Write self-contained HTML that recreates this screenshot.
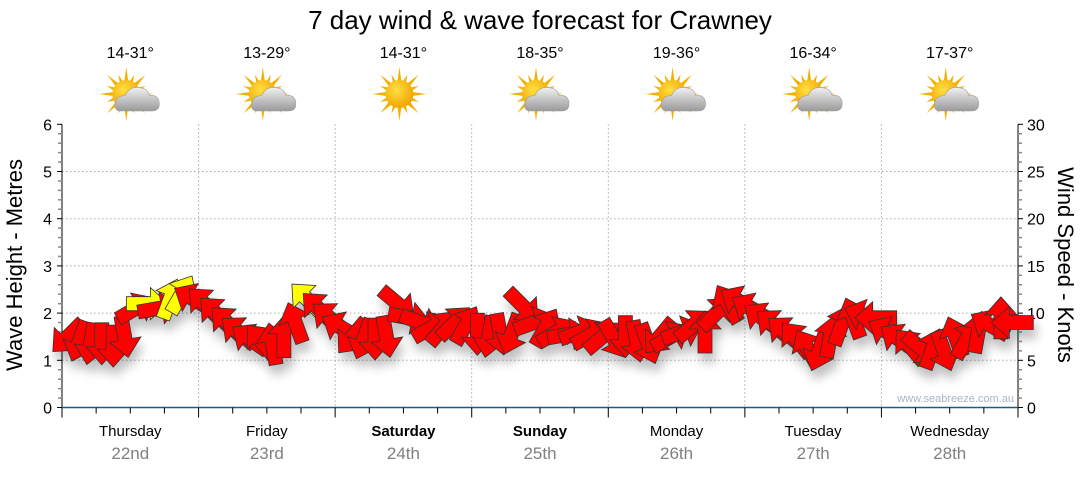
<!DOCTYPE html>
<html><head><meta charset="utf-8">
<style>
html,body{margin:0;padding:0;background:#fff;}
body{width:1080px;height:475px;overflow:hidden;font-family:"Liberation Sans",sans-serif;}
</style></head>
<body>
<svg id="chart" width="1080" height="475" viewBox="0 0 1080 475" xmlns="http://www.w3.org/2000/svg" font-family="Liberation Sans, sans-serif">
<defs>
 <filter id="sh" x="-50%" y="-50%" width="200%" height="200%">
  <feGaussianBlur in="SourceAlpha" stdDeviation="5"/>
  <feOffset dx="3" dy="9" result="b"/>
  <feComponentTransfer><feFuncA type="linear" slope="0.25"/></feComponentTransfer>
  <feMerge><feMergeNode/><feMergeNode in="SourceGraphic"/></feMerge>
 </filter>
 <radialGradient id="sunG" cx="0.4" cy="0.35" r="0.7"><stop offset="0" stop-color="#ffe040"/><stop offset="1" stop-color="#f0a000"/></radialGradient>
 <linearGradient id="cloudG" x1="0" y1="0" x2="0" y2="1"><stop offset="0" stop-color="#f0f0f0"/><stop offset="1" stop-color="#9a9a9a"/></linearGradient>
</defs>
<text x="540" y="29" font-size="26" text-anchor="middle" fill="#000">7 day wind &amp; wave forecast for Crawney</text>
<g id="grid"></g>
<g id="axes"></g>
<g id="weather"></g>
<g id="arrows" filter="url(#sh)"></g>
<text x="1014" y="402" font-size="11" text-anchor="end" fill="#a8b4c8">www.seabreeze.com.au</text>
<text transform="translate(22,265) rotate(-90)" font-size="22" text-anchor="middle" fill="#000">Wave Height - Metres</text>
<text transform="translate(1058,265) rotate(90)" font-size="22" text-anchor="middle" fill="#000">Wind Speed - Knots</text>
</svg>
<script>
const days = ["Thursday","Friday","Saturday","Sunday","Monday","Tuesday","Wednesday"];
const dates = ["22nd","23rd","24th","25th","26th","27th","28th"];
const boldDays = [false,false,true,true,false,false,false];
const temps = ["14-31°","13-29°","14-31°","18-35°","19-36°","16-34°","17-37°"];
const icons = ["cloud","cloud","sun","cloud","cloud","cloud","cloud"];
const waveTicks = [0,1,2,3,4,5,6];
const windTicks = [0,5,10,15,20,25,30];
// 2-hourly wave heights (m)
const waveHeights = [
 1.5,1.4,1.35,1.35,1.3,1.5,2.1,2.2,2.1,2.3,2.4,2.3,
 2.2,2.0,1.8,1.6,1.45,1.4,1.35,1.5,1.8,2.3,2.1,1.9,
 1.7,1.5,1.45,1.45,1.5,2.2,1.9,1.8,1.7,1.7,1.8,1.75,
 1.55,1.5,1.55,1.55,2.15,1.8,1.7,1.6,1.55,1.6,1.55,1.5,
 1.45,1.5,1.4,1.35,1.5,1.5,1.6,1.75,1.6,2.0,2.2,2.25,
 2.1,1.9,1.75,1.6,1.45,1.25,1.2,1.5,1.75,1.9,1.95,1.9,
 1.6,1.45,1.3,1.25,1.25,1.2,1.5,1.45,1.6,1.75,1.9,1.8];
// arrow direction (deg clockwise from up)
const windDirs = [
 225,200,190,180,180,170,60,90,80,20,30,300,
 315,315,315,310,305,320,350,0,340,315,315,310,
 300,220,200,180,170,130,100,110,60,40,45,30,
 180,190,170,200,135,70,30,60,80,70,60,50,
 150,180,170,160,220,60,70,50,0,45,330,300,
 300,305,310,310,320,330,200,10,20,340,290,270,
 300,305,320,130,20,160,340,30,10,300,0,270];
// wind speed (knots) - yellow when strong
const windSpeeds = [
 8,8,8,8,8,9,10,16,11,16,17,11,
 11,11,11,10,10,10,10,10,11,16,11,10,
 9,9,9,9,9,10,10,10,10,10,10,10,
 9,9,9,9,10,10,10,10,9,9,9,9,
 9,9,9,9,9,9,9,10,10,11,11,11,
 11,10,10,10,9,9,9,10,10,10,10,10,
 9,9,9,9,9,9,9,9,9,10,10,10];

const X0=62, X1=1018, Y0=407.5, PXM=47.2;
const dayW=(X1-X0)/7;
const yW = v => Y0 - v*PXM;
const yK = k => Y0 - k*PXM/5;
const xI = i => X0 + (i+0.5)*(X1-X0)/waveHeights.length;
const NS="http://www.w3.org/2000/svg";
function mk(tag,attrs,parent){const e=document.createElementNS(NS,tag);for(const k in attrs)e.setAttribute(k,attrs[k]);parent.appendChild(e);return e;}
const grid=document.getElementById('grid'), axes=document.getElementById('axes'), wx=document.getElementById('weather'), arr=document.getElementById('arrows');

for(let v=1;v<=5;v++){
 const l=mk('line',{x1:X0,x2:X1,y1:yW(v),y2:yW(v),stroke:'#aaa','stroke-dasharray':'1.5,2.5'},grid);
 
 
}
for(let d=1;d<7;d++){
 const x=X0+d*dayW;
 const l=mk('line',{x1:x,x2:x,y1:yW(6),y2:Y0,stroke:'#aaa','stroke-dasharray':'1.5,2.5'},grid);
 
 
}
mk('line',{x1:X0,x2:X0,y1:yW(6),y2:Y0,stroke:'#000'},axes);
mk('line',{x1:X1,x2:X1,y1:yW(6),y2:Y0,stroke:'#000'},axes);
mk('line',{x1:X0,x2:X1+1,y1:Y0,y2:Y0,stroke:'#1f5a85','stroke-width':1.5},axes);
for(let i=0;i<=30;i++){
 const y=yK(i), major=i%5===0;
 mk('line',{x1:X0-(major?5:4),x2:X0,y1:y,y2:y,stroke:major?'#000':'#888','stroke-width':major?1:1.5},axes);
 mk('line',{x1:X1,x2:X1+(major?5:4),y1:y,y2:y,stroke:major?'#000':'#888','stroke-width':major?1:1.5},axes);
}
waveTicks.forEach(v=>{
 const t=mk('text',{x:X0-10,y:yW(v)+6,'font-size':16,'text-anchor':'end',fill:'#000'},axes);t.textContent=v;
 
 
});
windTicks.forEach(v=>{
 const t=mk('text',{x:X1+9,y:yK(v)+6,'font-size':16,fill:'#000'},axes);t.textContent=v;
 
 
});
for(let j=0;j<=28;j++){
 const x=X0+j*dayW/4, major=j%4===0;
 mk('line',{x1:x,x2:x,y1:Y0,y2:Y0+(major?10:6),stroke:'#000'},axes);
}
days.forEach((d,i)=>{
 const cx=X0+(i+0.5)*dayW;
 const t=mk('text',{x:cx,y:436,'font-size':15,'text-anchor':'middle',fill:'#000','font-weight':boldDays[i]?'bold':'normal'},axes);t.textContent=d;
 
 
 const t2=mk('text',{x:cx,y:459,'font-size':17,'text-anchor':'middle',fill:'#808080'},axes);t2.textContent=dates[i];
 
 
 const t3=mk('text',{x:cx,y:58,'font-size':16,'text-anchor':'middle',fill:'#000'},wx);t3.textContent=temps[i];
 
 
 const g=mk('g',{transform:`translate(${cx-4},94)`},wx);
 
 
 for(let r=0;r<16;r++){
  const a=r*22.5, long=r%2===0?18:12;
  mk('polygon',{points:`-2.5,0 2.5,0 0,-${long}`,fill:'#f2b000',transform:`rotate(${a}) translate(0,-9)`},g);
 }
 mk('circle',{cx:0,cy:0,r:14,fill:'url(#sunG)'},g);
 if(icons[i]==='cloud'){
  const c=mk('g',{transform:'translate(12,6) scale(1.1)'},g);
  mk('path',{d:'M-16,10 Q-22,10 -21,3 Q-20,-4 -12,-4 Q-8,-13 2,-11 Q9,-10 10,-4 Q18,-5 19,2 Q20,10 12,10 Z',fill:'url(#cloudG)',stroke:'#999','stroke-width':0.5},c);
 }
});
waveHeights.forEach((h,i)=>{
 const x=xI(i), y=yW(h), a=windDirs[i];
 const col = windSpeeds[i]>=15 ? '#ffff00' : '#ff0000';
 const p=mk('polygon',{points:'0,-21 16,-3 7,-3 7,21 -7,21 -7,-3 -16,-3',fill:col,stroke:'#333','stroke-width':0.8,transform:`translate(${x.toFixed(1)},${y.toFixed(1)}) rotate(${a})`},arr);
 
 
});
</script>
</body></html>
